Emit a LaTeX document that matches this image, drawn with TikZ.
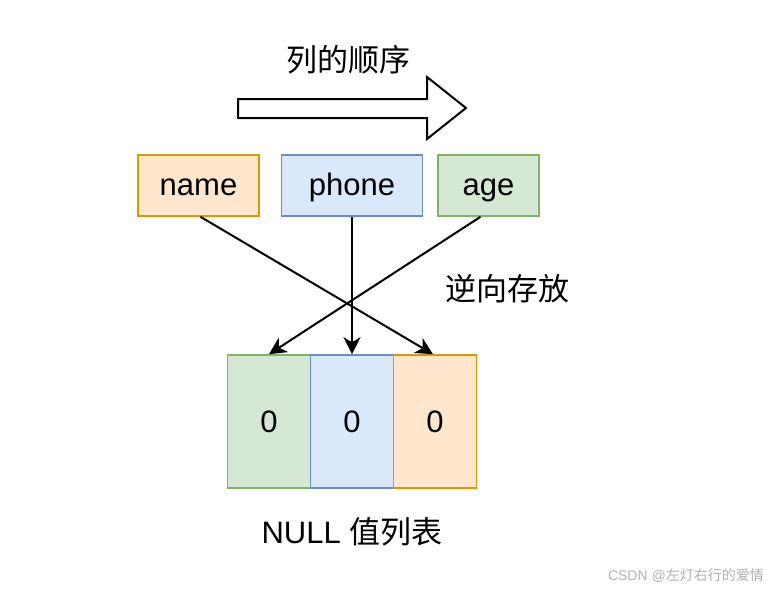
\documentclass[tikz,border=0pt]{standalone}
\usepackage{fontspec}
\setmainfont{Liberation Sans}
\newfontfamily\cjk{Noto Sans CJK SC}
\usetikzlibrary{arrows.meta}
\definecolor{orfill}{HTML}{FFE6CC}
\definecolor{ordraw}{HTML}{D79B00}
\definecolor{blfill}{HTML}{DAE8FC}
\definecolor{bldraw}{HTML}{6C8EBF}
\definecolor{grfill}{HTML}{D5E8D4}
\definecolor{grdraw}{HTML}{82B366}

\begin{document}
\begin{tikzpicture}[x=1pt,y=-1pt,
    field/.style={draw,line width=1.6pt,minimum width=#1,minimum height=61pt,inner sep=0pt,
      text height=25pt,text depth=6pt,font=\fontsize{31}{36}\selectfont},
    cell/.style={draw,line width=1.6pt,minimum width=83pt,minimum height=133pt,inner sep=0pt,font=\fontsize{31}{36}\selectfont},
    label/.style={font=\fontsize{31}{36}\selectfont\cjk,inner sep=0pt},
    link/.style={-{Stealth[length=17pt,width=17pt,inset=5pt]},line width=2pt}]
    \useasboundingbox (0,0) rectangle (770,590);
    % order of the columns
    \node[label] (order) at (348,60) {列的顺序};
    \draw[line width=2pt,fill=white] (238,99) -- (427,99) -- (427,77) -- (466,108)
      -- (427,139) -- (427,118) -- (238,118) -- cycle;
    % columns
    \node[field=121pt,fill=orfill,draw=ordraw] (name) at (198.5,185.5) {name};
    \node[field=141pt,fill=blfill,draw=bldraw] (phone) at (352,185.5) {phone};
    \node[field=101pt,fill=grfill,draw=grdraw] (age) at (488.5,185.5) {age};
    % NULL list
    \node[cell,fill=grfill,draw=grdraw] (c1) at (269,421.5) {0};
    \node[cell,fill=blfill,draw=bldraw] (c2) at (352,421.5) {0};
    \node[cell,fill=orfill,draw=ordraw] (c3) at (435,421.5) {0};
    \node[font=\fontsize{31}{36}\selectfont,inner sep=0pt] (null) at (352,532) {NULL {\cjk 值列表}};
    \node[label] (rev) at (507,289) {逆向存放};
    % reverse storage
    \draw[link] ([xshift=2pt]name.south) -- ([xshift=-2pt]c3.north);
    \draw[link] (phone.south) -- (c2.north);
    \draw[link] ([xshift=-8pt]age.south) -- (c1.north);
    \node[text=black!30,font=\fontsize{14}{16}\selectfont,inner sep=0pt,anchor=east] (mark) at (764,576) {CSDN @{\cjk 左灯右行的爱情}};
\end{tikzpicture}
\end{document}
